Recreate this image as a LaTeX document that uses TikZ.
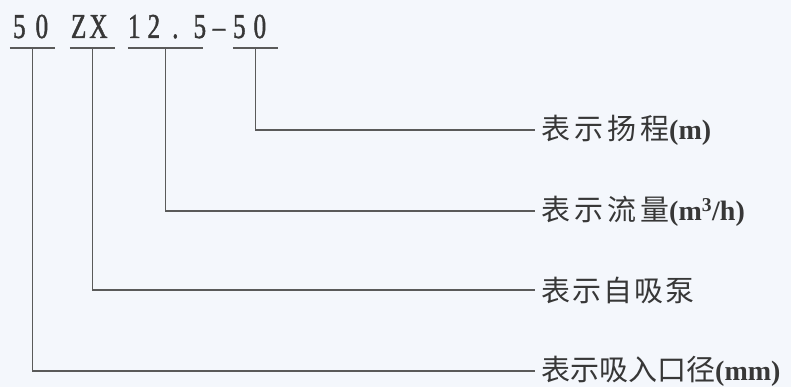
\documentclass[tikz,border=0pt]{standalone}
\usepackage{fontspec}
\newfontfamily\codefont[FakeStretch=0.72,FakeBold=1.2]{Liberation Serif}
\newfontfamily\cjk{Noto Sans CJK SC}
\newfontfamily\latinlbl{Liberation Serif}
\definecolor{paper}{RGB}{244,247,252}
\definecolor{ink}{RGB}{55,55,55}
\definecolor{wire}{RGB}{90,90,90}
\tikzset{
  codebox/.style={inner sep=0pt, text depth=10pt, anchor=base, text=ink,
    font=\codefont\fontsize{35}{35}\selectfont},
  lbl/.style={inner sep=0pt, anchor=west, text=ink,
    font=\cjk\fontsize{29}{29}\selectfont},
  wireline/.style={draw=wire, line width=1.7pt},
  uline/.style={draw=wire, line width=1.8pt}
}
\newcommand{\lat}[1]{{\latinlbl\bfseries\fontsize{28}{28}\selectfont #1}}
\begin{document}
\begin{tikzpicture}[x=1pt,y=-1pt]
\useasboundingbox (0,0) rectangle (791,387);
\fill[paper] (0,0) rectangle (791,387);
% code groups
\node[codebox] (c1) at (32.5,38) {\makebox[45pt][l]{\hspace{3pt}5\hspace{10pt}0}};
\node[codebox] (c2) at (92.5,38) {\makebox[45pt][l]{\hspace{1pt}Z\hspace{3pt}X}};
\node[codebox] (c3) at (165.5,38) {\makebox[75pt][l]{1\hspace{7pt}2\hspace{12pt}.\hspace{15pt}5}};
\node[codebox, text depth=0pt] (dash) at (219,38) {–};
\node[codebox] (c4) at (255.5,38) {\makebox[45pt][l]{5\hspace{8pt}0}};
\foreach \c in {c1,c2,c3,c4}{\draw[uline] (\c.south west) -- (\c.south east);}
% labels
\node[lbl] (l1) at (541,130) {表\hspace{4pt}示\hspace{4pt}扬\hspace{4pt}程\lat{(m)}};
\node[lbl] (l2) at (541,211) {表\hspace{4pt}示\hspace{4pt}流\hspace{4pt}量\lat{(m\textsuperscript{3}/h)}};
\node[lbl] (l3) at (541,290) {表\hspace{2pt}示\hspace{2pt}自\hspace{2pt}吸\hspace{2pt}泵};
\node[lbl] (l4) at (541,371) {表示吸入口径\lat{(mm)}};
% connectors
\draw[wireline] (c4.south) |- ([xshift=-6pt]l1.west);
\draw[wireline] (c3.south) |- ([xshift=-6pt]l2.west);
\draw[wireline] (c2.south) |- ([xshift=-6pt]l3.west);
\draw[wireline] (c1.south) |- ([xshift=-6pt]l4.west);
\end{tikzpicture}
\end{document}
